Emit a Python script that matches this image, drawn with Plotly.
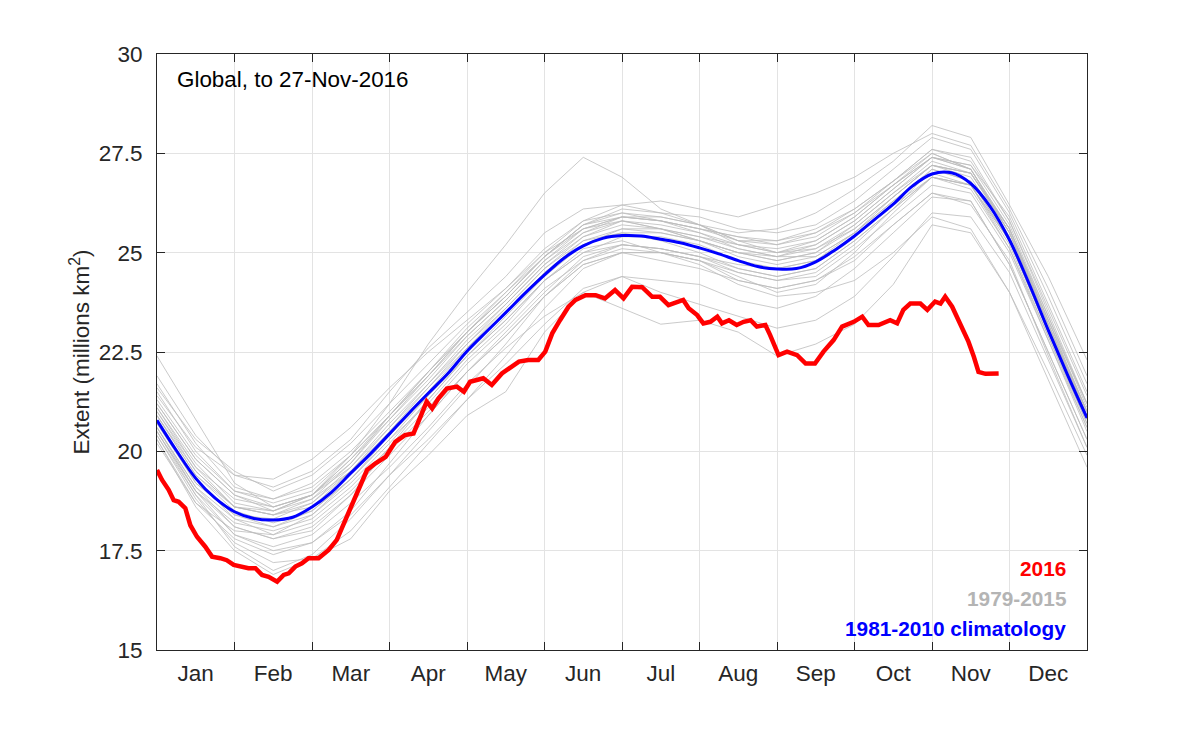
import plotly.graph_objects as go

# ---------------- data ----------------
month_labels = ["Jan", "Feb", "Mar", "Apr", "May", "Jun",
                "Jul", "Aug", "Sep", "Oct", "Nov", "Dec"]
month_label_pos = [0.5, 1.5, 2.5, 3.5, 4.5, 5.5, 6.5, 7.5, 8.5, 9.5, 10.5, 11.5]
month_bounds = [1, 2, 3, 4, 5, 6, 7, 8, 9, 10, 11]

y_ticks = [15, 17.5, 20, 22.5, 25, 27.5, 30]
y_ticktext = ["15", "17.5", "20", "22.5", "25", "27.5", "30"]

# 1981-2010 climatology (x in months since 1 Jan)
clim_x = [0, 0.25, 0.5, 0.75, 1, 1.25, 1.5, 1.75, 2, 2.25, 2.5, 2.75, 3, 3.25, 3.5, 3.75,
          4, 4.25, 4.5, 4.75, 5, 5.25, 5.5, 5.75, 6, 6.25, 6.5, 6.75, 7, 7.25, 7.5, 7.75,
          8, 8.25, 8.5, 8.75, 9, 9.25, 9.5, 9.75, 10, 10.25, 10.5, 10.75, 11, 11.25, 11.5, 11.75, 12]
clim_y = [20.78, 20.02, 19.32, 18.82, 18.48, 18.31, 18.27, 18.34, 18.60, 18.97, 19.45, 19.93,
          20.44, 20.96, 21.46, 21.95, 22.52, 23.01, 23.49, 23.98, 24.44, 24.86, 25.17, 25.36,
          25.43, 25.42, 25.34, 25.25, 25.12, 24.97, 24.80, 24.65, 24.59, 24.60, 24.77, 25.07,
          25.42, 25.82, 26.22, 26.68, 26.98, 27.01, 26.74, 26.16, 25.32, 24.23, 23.05, 21.92, 20.84]

# 2016 extent to 27-Nov (x in months since 1 Jan)
y2016_x = [0.0, 0.065, 0.15, 0.215, 0.28, 0.365, 0.43, 0.516, 0.623, 0.71, 0.817, 0.90, 0.99,
           1.075, 1.18, 1.27, 1.355, 1.44, 1.55, 1.635, 1.70, 1.785, 1.87, 1.955, 2.085, 2.215,
           2.32, 2.43, 2.54, 2.62, 2.71, 2.82, 2.95, 3.075, 3.20, 3.31, 3.40, 3.48, 3.55, 3.63,
           3.74, 3.87, 3.96, 4.04, 4.21, 4.32, 4.45, 4.58, 4.67, 4.79, 4.92, 5.01, 5.10, 5.20,
           5.31, 5.40, 5.53, 5.66, 5.78, 5.91, 6.02, 6.13, 6.26, 6.39, 6.49, 6.60, 6.71, 6.79,
           6.86, 6.97, 7.05, 7.14, 7.23, 7.29, 7.38, 7.48, 7.57, 7.66, 7.74, 7.85, 7.91, 8.02,
           8.13, 8.26, 8.37, 8.49, 8.60, 8.73, 8.84, 8.99, 9.10, 9.18, 9.31, 9.46, 9.55, 9.63,
           9.72, 9.85, 9.94, 10.04, 10.11, 10.17, 10.26, 10.32, 10.39, 10.47, 10.54, 10.60,
           10.69, 10.86]
y2016_y = [19.53, 19.28, 19.03, 18.77, 18.73, 18.57, 18.14, 17.85, 17.60, 17.35, 17.31, 17.26,
           17.14, 17.10, 17.06, 17.06, 16.89, 16.84, 16.72, 16.89, 16.93, 17.10, 17.18, 17.31,
           17.31, 17.52, 17.77, 18.27, 18.77, 19.19, 19.53, 19.70, 19.86, 20.24, 20.41, 20.45,
           20.87, 21.25, 21.08, 21.33, 21.58, 21.63, 21.50, 21.75, 21.84, 21.67, 21.96, 22.13,
           22.26, 22.30, 22.30, 22.51, 22.97, 23.30, 23.64, 23.81, 23.93, 23.93, 23.85, 24.06,
           23.85, 24.14, 24.13, 23.89, 23.89, 23.68, 23.77, 23.81, 23.60, 23.43, 23.22, 23.26,
           23.39, 23.22, 23.30, 23.18, 23.26, 23.30, 23.14, 23.18, 22.93, 22.42, 22.51, 22.42,
           22.21, 22.21, 22.51, 22.80, 23.14, 23.26, 23.39, 23.18, 23.18, 23.30, 23.22, 23.56,
           23.72, 23.72, 23.56, 23.77, 23.72, 23.89, 23.64, 23.39, 23.05, 22.76, 22.38, 22.00,
           21.95, 21.96]

# 1979-2015 individual years, sampled at half-month steps
years_x = [0, 0.5, 1, 1.5, 2, 2.5, 3, 3.5, 4, 4.5, 5, 5.5, 6, 6.5, 7, 7.5, 8, 8.5, 9, 9.5,
           10, 10.5, 11, 11.5, 12]
years_y = [
    [21.9, 20.4, 19.4, 19.1, 19.5, 20.3, 21.5, 22.6, 23.5, 24.4, 25.5, 26.1, 26.2, 26.0, 25.9, 25.6, 25.5, 25.7, 26.3, 27.1, 27.9, 27.6, 26.0, 23.9, 21.7],
    [22.4, 20.8, 19.2, 18.6, 18.9, 19.7, 20.9, 21.9, 23.0, 23.9, 24.9, 25.7, 25.9, 25.8, 25.6, 25.3, 25.3, 25.6, 26.1, 26.8, 27.6, 27.3, 25.8, 23.5, 21.2],
    [21.2, 19.8, 18.9, 18.5, 18.9, 19.9, 21.2, 22.7, 24.0, 25.2, 26.5, 27.4, 26.9, 26.1, 25.7, 25.2, 25.0, 25.3, 25.9, 26.7, 27.5, 27.1, 25.6, 23.3, 21.0],
    [20.3, 18.6, 17.5, 16.9, 17.3, 18.0, 19.1, 20.2, 21.3, 22.4, 23.6, 24.6, 25.0, 25.0, 24.8, 24.4, 24.0, 24.2, 25.0, 26.0, 26.9, 26.7, 25.1, 22.8, 20.5],
    [20.5, 18.9, 17.6, 17.0, 17.4, 18.3, 19.4, 20.5, 21.6, 22.7, 23.9, 24.8, 25.2, 25.1, 24.9, 24.5, 24.3, 24.5, 25.2, 26.1, 27.1, 26.8, 25.3, 23.0, 20.8],
    [20.6, 19.0, 17.9, 17.6, 17.9, 18.7, 19.6, 20.6, 21.7, 22.6, 23.4, 24.0, 23.6, 23.2, 23.3, 23.0, 22.4, 22.7, 23.2, 24.2, 25.7, 25.5, 24.0, 22.0, 19.9],
    [20.4, 18.8, 17.7, 17.2, 17.3, 17.8, 19.0, 19.9, 20.9, 21.5, 23.0, 24.0, 24.4, 24.3, 24.2, 23.8, 23.6, 23.9, 24.6, 25.5, 26.4, 26.3, 24.7, 22.5, 20.3],
    [21.0, 19.6, 18.8, 18.6, 18.9, 19.8, 20.8, 21.8, 22.9, 23.8, 24.8, 25.5, 25.8, 25.7, 25.5, 25.1, 24.9, 25.1, 25.7, 26.5, 27.3, 27.0, 25.6, 23.4, 21.1],
    [20.5, 19.0, 18.2, 18.0, 18.3, 19.1, 20.1, 21.1, 22.2, 23.1, 24.1, 24.8, 25.1, 25.0, 24.8, 24.5, 24.3, 24.4, 25.1, 25.9, 26.7, 26.5, 25.0, 22.8, 20.6],
    [21.3, 19.9, 19.0, 18.8, 19.2, 20.0, 21.0, 22.0, 23.0, 23.9, 24.9, 25.7, 26.0, 25.9, 25.7, 25.5, 25.6, 26.0, 26.6, 27.3, 28.2, 27.9, 26.2, 24.4, 22.3],
    [20.9, 19.5, 18.6, 18.4, 18.8, 19.7, 20.8, 21.9, 23.0, 24.0, 25.0, 25.8, 26.2, 26.3, 26.1, 25.9, 26.2, 26.5, 26.9, 27.5, 28.0, 27.7, 26.1, 24.1, 21.9],
    [21.4, 20.1, 19.4, 19.3, 19.8, 20.6, 21.6, 22.5, 23.3, 24.1, 25.0, 25.6, 25.8, 25.6, 25.4, 25.2, 25.1, 25.3, 25.9, 26.7, 27.4, 27.2, 25.9, 23.7, 21.5],
    [20.7, 19.3, 18.3, 17.9, 18.2, 19.0, 20.0, 21.0, 22.0, 22.9, 23.9, 24.7, 25.0, 24.8, 24.6, 24.3, 24.1, 24.3, 24.9, 25.7, 26.5, 26.2, 24.8, 22.4, 20.1],
    [20.6, 19.1, 18.1, 17.8, 18.1, 18.9, 20.1, 21.3, 22.4, 23.3, 24.3, 25.1, 25.3, 25.0, 24.7, 24.2, 23.9, 24.0, 24.3, 25.0, 25.9, 25.6, 24.0, 21.8, 19.6],
    [21.1, 19.7, 18.7, 18.5, 18.8, 19.5, 20.6, 21.7, 22.8, 23.7, 24.7, 25.4, 25.7, 25.6, 25.3, 25.0, 24.8, 25.0, 25.6, 26.4, 27.2, 26.9, 25.4, 23.1, 20.9],
    [20.9, 19.4, 18.5, 18.2, 18.5, 19.3, 20.3, 21.4, 22.5, 23.5, 24.5, 25.3, 25.6, 25.5, 25.3, 25.0, 24.8, 25.0, 25.7, 26.5, 27.2, 27.0, 25.6, 23.2, 21.0],
    [20.8, 19.2, 18.4, 18.3, 18.7, 19.6, 20.7, 21.7, 22.7, 23.6, 24.6, 25.3, 25.5, 25.3, 25.0, 24.6, 24.4, 24.6, 25.3, 26.1, 26.9, 26.6, 25.1, 22.9, 20.7],
    [21.7, 20.2, 19.1, 18.8, 19.1, 19.9, 20.9, 21.9, 22.9, 23.8, 24.8, 25.6, 25.9, 25.8, 25.6, 25.4, 25.3, 25.5, 26.0, 26.7, 27.4, 27.1, 25.5, 23.2, 21.0],
    [20.4, 18.9, 17.9, 17.5, 17.7, 18.4, 19.4, 20.3, 21.3, 22.2, 23.2, 24.1, 24.4, 24.0, 23.7, 23.4, 23.1, 23.3, 23.9, 24.9, 26.0, 25.9, 24.5, 22.3, 20.1],
    [21.0, 19.5, 18.6, 18.5, 18.9, 19.8, 20.9, 22.0, 23.1, 24.0, 24.9, 25.6, 25.9, 25.8, 25.6, 25.4, 25.2, 25.4, 26.0, 26.8, 27.6, 27.4, 25.8, 23.6, 21.4],
    [20.6, 19.1, 18.3, 18.1, 18.5, 19.3, 20.3, 21.2, 22.3, 23.2, 24.3, 25.0, 25.4, 25.4, 25.2, 24.8, 24.6, 24.8, 25.4, 26.2, 26.9, 26.7, 25.2, 22.9, 20.6],
    [20.2, 18.7, 18.0, 17.9, 18.4, 19.3, 20.4, 21.5, 22.6, 23.5, 24.5, 25.2, 25.5, 25.5, 25.3, 25.0, 24.9, 25.2, 25.8, 26.6, 27.4, 27.2, 25.7, 23.4, 21.2],
    [21.5, 20.0, 19.0, 18.7, 19.0, 19.9, 20.9, 22.0, 23.0, 23.9, 24.9, 25.7, 26.1, 26.0, 25.7, 25.3, 25.2, 25.5, 26.1, 26.8, 27.5, 27.1, 25.5, 23.3, 21.2],
    [20.9, 19.4, 18.6, 18.4, 18.7, 19.5, 20.4, 21.4, 22.4, 23.4, 24.4, 25.2, 25.6, 25.6, 25.4, 25.1, 24.9, 24.9, 25.5, 26.3, 27.0, 26.7, 25.3, 23.0, 20.7],
    [21.2, 19.8, 18.9, 18.6, 18.9, 19.6, 20.6, 21.6, 22.6, 23.6, 24.6, 25.4, 25.8, 25.6, 25.3, 24.9, 24.7, 24.9, 25.5, 26.3, 27.1, 26.8, 25.3, 23.0, 20.8],
    [20.5, 19.0, 18.1, 17.8, 18.0, 18.9, 19.9, 20.9, 22.0, 22.9, 23.9, 24.7, 25.0, 25.0, 24.8, 24.3, 24.1, 24.3, 24.8, 25.7, 26.5, 26.3, 24.7, 22.5, 20.3],
    [21.1, 19.6, 18.6, 18.4, 18.6, 19.5, 20.5, 21.6, 22.7, 23.7, 24.7, 25.5, 25.9, 25.9, 25.7, 25.3, 25.0, 25.2, 25.8, 26.6, 27.4, 27.1, 25.6, 23.3, 21.0],
    [20.7, 19.2, 18.4, 18.1, 18.4, 19.2, 20.2, 21.3, 22.4, 23.3, 24.3, 25.0, 25.2, 25.1, 24.9, 24.7, 24.6, 24.8, 25.5, 26.4, 27.2, 27.0, 25.5, 23.2, 20.9],
    [21.6, 20.3, 19.5, 19.0, 19.4, 20.2, 21.2, 22.2, 23.2, 24.1, 25.1, 25.8, 26.0, 25.8, 25.5, 25.2, 25.0, 25.1, 25.6, 26.4, 27.2, 27.0, 25.5, 23.2, 20.9],
    [20.3, 18.7, 17.8, 17.4, 17.7, 18.5, 19.7, 20.9, 22.0, 23.0, 24.0, 24.9, 25.2, 25.1, 24.9, 24.6, 24.4, 24.6, 25.3, 26.1, 26.9, 26.7, 25.3, 23.1, 21.0],
]

# ---------------- figure ----------------
FONT = "Liberation Sans, Arial, Helvetica, sans-serif"
AXIS_COLOR = "#262626"
GRID_COLOR = "#e3e3e3"

fig = go.Figure()

for yy in years_y:
    fig.add_trace(go.Scatter(x=years_x, y=yy, mode="lines",
                             line=dict(color="#bdbdbd", width=0.8),
                             hoverinfo="skip", showlegend=False))

fig.add_trace(go.Scatter(x=clim_x, y=clim_y, mode="lines",
                         line=dict(color="#0000ff", width=3, shape="spline"),
                         showlegend=False))

fig.add_trace(go.Scatter(x=y2016_x, y=y2016_y, mode="lines",
                         line=dict(color="#ff0000", width=4.5),
                         showlegend=False))

# text labels
fig.add_annotation(x=0.236, y=29.35, xref="x", yref="y", text="Global, to 27-Nov-2016",
                   showarrow=False, xanchor="left", yanchor="middle",
                   font=dict(family=FONT, size=22.4, color="#000000"))
legend_items = [("2016", "#ff0000", 17.06),
                ("1979-2015", "#b4b4b4", 16.30),
                ("1981-2010 climatology", "#0000ff", 15.55)]
for txt, col, yv in legend_items:
    fig.add_annotation(x=11.75, y=yv, xref="x", yref="y", text="<b>%s</b>" % txt,
                       showarrow=False, xanchor="right", yanchor="middle",
                       font=dict(family=FONT, size=20.8, color=col))

# page body has an 8px margin, so the figure is 8px smaller than the window
fig.update_layout(
    width=1192, height=723,
    margin=dict(l=149, r=113, t=46, b=81),
    paper_bgcolor="white", plot_bgcolor="white",
    font=dict(family=FONT, size=22.5, color=AXIS_COLOR),
    showlegend=False,
)

fig.update_xaxes(
    range=[0, 12],
    tickvals=month_label_pos, ticktext=month_labels,
    ticks="", showgrid=False, zeroline=False,
    showline=True, linecolor=AXIS_COLOR, linewidth=1, mirror="ticks",
    tickfont=dict(family=FONT, size=22.5, color=AXIS_COLOR),
    ticklabelstandoff=3,
    minor=dict(tickvals=month_bounds, ticks="inside", ticklen=8, tickwidth=1,
               tickcolor=AXIS_COLOR, showgrid=True, gridcolor=GRID_COLOR, gridwidth=1),
)

fig.update_yaxes(
    range=[15, 30],
    tickvals=y_ticks, ticktext=y_ticktext,
    ticks="inside", ticklen=8, tickwidth=1, tickcolor=AXIS_COLOR,
    showgrid=True, gridcolor=GRID_COLOR, gridwidth=1, zeroline=False,
    showline=True, linecolor=AXIS_COLOR, linewidth=1, mirror="ticks",
    tickfont=dict(family=FONT, size=22.5, color=AXIS_COLOR),
    ticklabelstandoff=9,
    title=dict(text="Extent (millions km<sup>2</sup>)", standoff=2,
               font=dict(family=FONT, size=22.5, color=AXIS_COLOR)),
)

fig.write_html("out.html")
